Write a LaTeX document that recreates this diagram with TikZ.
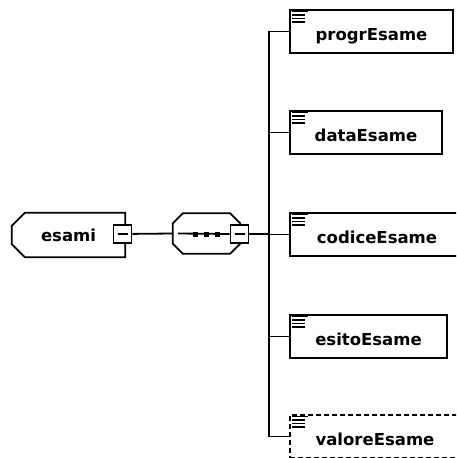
\documentclass[tikz,border=0pt]{standalone}
\usepackage{fontspec}
\setmainfont{DejaVu Sans}
\begin{document}
\begin{tikzpicture}[x=1pt,y=-1pt,
  conn/.style={line width=1.8pt},
  elem/.style={draw, line width=2pt, minimum height=43pt, inner sep=0pt,
    font=\bfseries\fontsize{16.5}{19}\selectfont, text height=20pt, text depth=3pt},
  optelem/.style={elem, dash pattern=on 5pt off 3pt},
  outline/.style={line width=1.8pt, line join=miter},
  minusbox/.style={draw, line width=1.8pt, fill=white, minimum size=18pt, inner sep=0pt,
    path picture={\draw[line width=1.6pt] ([xshift=4pt]path picture bounding box.west) -- ([xshift=-4pt]path picture bounding box.east);}},
  seqdot/.style={fill, minimum size=5pt, inner sep=0pt}]
\useasboundingbox (0,0) rectangle (456,458);
\clip (0,0) rectangle (456,458);
\node[minimum width=113pt, minimum height=44pt, inner sep=0pt, font=\bfseries\fontsize{16.5}{19}\selectfont] (esami) at (68.5,235){esami};
\draw[outline] ([xshift=13pt]esami.north west) -- (esami.north east) -- (esami.south east)
  -- ([xshift=13pt]esami.south west) -- ([yshift=13pt]esami.south west) -- ([yshift=-13pt]esami.north west) -- cycle;
\node[minusbox] (m1) at (122.5,234){};
\node[minimum width=67pt, minimum height=40pt, inner sep=0pt] (seq) at (206.5,233.5){};
\draw[outline] ([xshift=10pt]seq.north west) -- ([xshift=-10pt]seq.north east) -- ([yshift=-10pt]seq.north east)
  -- ([yshift=10pt]seq.south east) -- ([xshift=-10pt]seq.south east) -- ([xshift=10pt]seq.south west)
  -- ([yshift=10pt]seq.south west) -- ([yshift=-10pt]seq.north west) -- cycle;
\node[seqdot] (d1) at (195,234){};
\node[seqdot] (d2) at (206,234){};
\node[seqdot] (d3) at (217,234){};
\node[minusbox] (m2) at (239.5,234){};
\draw[conn] ([xshift=5pt]seq.west) -- (m2.west);
\draw[conn] (m1) -- (seq.west);
\coordinate (trunk) at (269,234);
\draw[conn] (m2) -- (trunk);
\node[elem, minimum width=163pt] (e1) at (371.5,31.5){progrEsame};
\node[elem, minimum width=152pt] (e2) at (366,132.5){dataEsame};
\node[elem, minimum width=174pt] (e3) at (377,234.5){codiceEsame};
\node[elem, minimum width=157pt] (e4) at (368.5,336.5){esitoEsame};
\node[optelem, minimum width=170pt] (e5) at (375,436.5){valoreEsame};
\foreach \e in {e1,e2,e3,e4,e5}{
  \draw[conn] (\e.west) -| (trunk);
  \draw[line width=1.8pt] ([shift={(3,2.5)}]\e.north west) -- ++(16,0);
  \foreach \k in {6,9.5,13}
    \draw[line width=1.8pt] ([shift={(3,\k)}]\e.north west) -- ++(13,0);
}
\end{tikzpicture}
\end{document}
